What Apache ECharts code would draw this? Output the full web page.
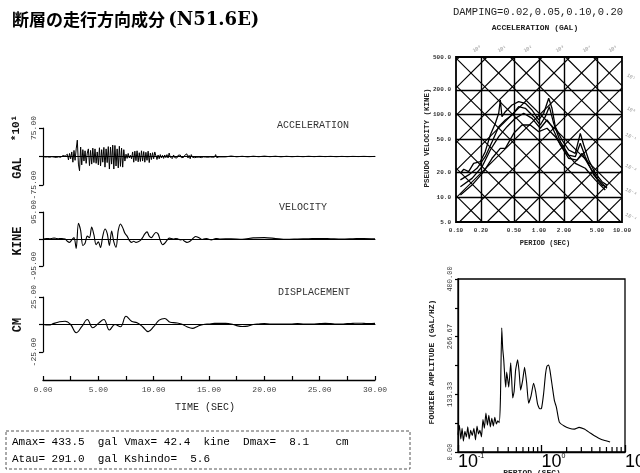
<!DOCTYPE html>
<html>
<head>
<meta charset="utf-8">
<script src="https://cdn.jsdelivr.net/npm/echarts@6/dist/echarts.min.js"></script>
<style>html,body{margin:0;background:#fff}#chart{width:640px;height:473px}</style>
</head>
<body>
<div id="chart"></div>
<script>
// time histories (gal / kine / cm), sampled at fixed steps
const accStep = 0.1;
const accValues = [
  0, 10, -15, 20, -10, 5, -20, 15, -5, 25, -15, 10, -25, 20, -10, 15, -20, 5, 25, -15, 10,
  -40, 60, -90, 80, -60, 120, -150, 160, -100,
  200, 430, -200, -375, 250, -220, 180, -120, 150, -180,
  90, 200, -240, 160, -200, 220, -160, 200, -180, 120,
  -220, 230, -250, 180, -150, 240, -280, 200, -160, 260,
  -330, 250, -200, 300, -330, 290, -250, 200, -300, 270,
  -260, 220, -280, 180, -120, 60, -50, 80, -40, 30,
  -60, 120, -150, 140, -110, 150, -140, 100, -130, 150,
  -120, 130, -150, 110, -100, 140, -160, 90, -80, 100,
  -60, 120, 160, -80, 40, -60, 50, -40, 30, -50,
  40, -30, 50, -40, 90, -20, 30, -50, 40, -30,
  20, -40, 30, -20, 40, -30, 20, -25, 30, 60,
  70, -40, 30, -60, 50, -20, 30, -30, 20, -20,
  25, -15, 20, -30, 15, -10, 20, -15, 10, -20,
  15, -10, 25, -20, 10, -15, 50, -30, 20, -10, 15
];
const accTailStep = 0.5;
const accTail = [-10, 12, -8, 6, -10, 8, -6, 10, -5, 7, -8, 5, -6, 4, -5, 6, -4, 5, -3, 4, -5, 3, -4, 3, -2, 4, -3, 2];

const velStep = 0.2;
const velValues = [
  0, 1, 2, 1, 2, 3, 2, 1, 2, 1, 0,
  -8, -12, -3, 5, -33,
  55, 30, -23, -15, 10,
  5, 42, 15, -20, -10,
  -30, 10, 35, 20, -23,
  28, -10, -29, 30, 53,
  40, 20, 10, -5, -12,
  -8, -12, -10, -5, 5,
  18, 25, 10, 5, 15,
  23, 18, -5, -20, -15,
  -5, 3, 2, 0, 2,
  0, -3, -2, -8, -12,
  -10, -4, 4, 9, 6,
  2, -2, 1, 2, -1,
  -3, -1, 2, 1, 0
];
const velTailStep = 1;
const velTail = [1, -1, 4, 5, 2, -1, 0, 1, 2, 1, 0, 1, 2, 1];

const dispStep = 0.5;
const dispValues = [
  0, -0.5, 1, 2.5, 3, 0, -7.5, -2, 4.5, -3, 1, 4.5, -5, 0, -2, 7.5, 3, 1.5, -2, -6.5,
  -2, 4, 5.5, 2, 1.5, 0.5, -2, -3.5, -1.5, 0, 0.5, 1, 1, 1, 0.5, -1, -1.8, -1.5, 0, 0.5,
  0.8, 0.5, 0.5, 0.5, 0.3, 0.5, 0.8, 0.5, 0.3, 0.5, 0.8, 1, 0.8, 0.5, 0.5, 0.8, 1, 1.2, 1, 0.8, 1
];

// response spectra (period sec, pseudo velocity kine)
const tripPeriodTicks = [0.1, 0.2, 0.5, 1, 2, 5, 10];
const tripVelTicks = [5, 10, 20, 50, 100, 200, 500];
const accLevels = [2.86, 6.2, 13.3, 28.6, 61.7, 133, 286, 617, 1327, 2859, 6170, 13277, 28600];
const dispLevels = [0.077, 0.166, 0.358, 0.771, 1.66, 3.58, 7.71, 16.6, 35.8, 77.1, 166, 358, 771];
const psv002 = [[0.113,19.5],[0.124,21.8],[0.142,20.4],[0.163,25.7],[0.196,26.9],[0.225,35.6],[0.259,56.7],[0.298,78.6],[0.327,103.9],[0.342,150.6],[0.358,94.5],[0.393,108.6],[0.473,131],[0.569,143.6],[0.684,137.3],[0.824,113.9],[0.992,86.2],[1.139,103.9],[1.309,157.9],[1.434,119.4],[1.572,71.5],[1.892,49.3],[2.279,37.3],[2.737,34],[3.145,59.4],[3.457,42.9],[3.97,28.2],[4.766,19.5],[5.741,15.4],[6.596,14.0]];
const psv005 = [[0.113,16.2],[0.142,18.6],[0.179,22.4],[0.225,30.9],[0.272,47],[0.327,71.5],[0.393,86.2],[0.473,99.1],[0.569,124.9],[0.684,119.4],[0.863,94.5],[1.037,74.9],[1.191,94.5],[1.331,124.9],[1.503,78.6],[1.806,47],[2.279,32.4],[2.737,30.9],[3.145,45],[3.612,30.9],[4.56,18.6],[5.741,14.0],[6.596,13.2]];
const psv010 = [[0.113,13.4],[0.156,16.9],[0.206,23.4],[0.259,37.3],[0.327,54.1],[0.412,71.5],[0.518,90.3],[0.654,103.9],[0.824,90.3],[1.037,68.4],[1.249,86.2],[1.434,71.5],[1.806,42.9],[2.279,29.6],[2.87,28.2],[3.297,34],[3.97,24.5],[5.0,16.9],[6.596,12.8]];
const psv020 = [[0.113,10.6],[0.156,14.0],[0.216,20.4],[0.272,29.6],[0.342,39.1],[0.393,39.1],[0.496,59.4],[0.624,74.9],[0.786,74.9],[0.992,62.2],[1.249,68.4],[1.572,54.1],[2.075,35.6],[2.737,25.7],[3.612,22.4],[4.766,16.2],[6.29,12.2]];

// fourier spectrum
const fourierPeriod = [
  0.100, 0.104, 0.108, 0.112, 0.116, 0.121, 0.126, 0.131, 0.136, 0.142, 0.148, 0.155, 0.162, 0.169, 0.176,
  0.183, 0.191, 0.199, 0.207, 0.216, 0.225, 0.234, 0.244, 0.254, 0.265, 0.276, 0.288, 0.300, 0.312,
  0.322, 0.334, 0.343, 0.353, 0.363, 0.373, 0.383, 0.394, 0.405, 0.416, 0.428, 0.440, 0.452, 0.470, 0.490,
  0.518, 0.540, 0.562, 0.594, 0.627, 0.664, 0.700, 0.750, 0.803, 0.850, 0.895, 0.950, 1.000, 1.060, 1.117,
  1.160, 1.209, 1.260, 1.350, 1.430, 1.507, 1.635, 1.870, 2.145, 2.480, 2.816, 3.250, 3.700, 4.250, 4.850,
  5.600, 6.630
];
const fourierAmp = [
  40, 62, 30, 55, 25, 48, 35, 58, 30, 50, 38, 55, 28, 60, 42,
  50, 35, 75, 55, 90, 62, 85, 58, 78, 60, 80, 65, 72, 68,
  120, 287, 240, 213, 175, 150, 185, 168, 150, 175, 206, 165, 125, 140, 190,
  213, 185, 143, 165, 196, 160, 113, 130, 159, 140, 112, 100, 101, 135, 180,
  198, 201, 190, 150, 118, 104, 69, 60, 55, 53, 57, 53, 46, 38, 32,
  27, 23
];
const fourierMinorTicks = [0.2, 0.3, 0.4, 0.5, 0.6, 0.7, 0.8, 0.9, 2, 3, 4, 5, 6, 7, 8, 9];

const MONO = '"Liberation Mono", "DejaVu Sans Mono", monospace';

function pairs(values, step, t0) {
  return values.map((v, i) => [+(t0 + i * step).toFixed(2), v]);
}
const accData = pairs(accValues, accStep, 0).concat(pairs(accTail, accTailStep, 16.5));
const velData = pairs(velValues, velStep, 0).concat(pairs(velTail, velTailStep, 17));
const dispData = pairs(dispValues, dispStep, 0);

const tMin = tripPeriodTicks[0], tMax = tripPeriodTicks[tripPeriodTicks.length - 1];
const vMin = tripVelTicks[0], vMax = tripVelTicks[tripVelTicks.length - 1];
const gridLines = [];
tripPeriodTicks.slice(1, -1).forEach(t => gridLines.push({ coords: [[t, vMin], [t, vMax]] }));
tripVelTicks.slice(1, -1).forEach(v => gridLines.push({ coords: [[tMin, v], [tMax, v]] }));

const TWO_PI = 2 * Math.PI;
const diagLines = [];
accLevels.forEach(sa => {
  const lo = Math.max(tMin, vMin * TWO_PI / sa), hi = Math.min(tMax, vMax * TWO_PI / sa);
  if (lo < hi) diagLines.push({ coords: [[lo, sa * lo / TWO_PI], [hi, sa * hi / TWO_PI]] });
});
dispLevels.forEach(sd => {
  const lo = Math.max(tMin, TWO_PI * sd / vMax), hi = Math.min(tMax, TWO_PI * sd / vMin);
  if (lo < hi) diagLines.push({ coords: [[lo, TWO_PI * sd / lo], [hi, TWO_PI * sd / hi]] });
});

function traceX(gridIndex) {
  return {
    gridIndex, type: 'value', min: 0, max: 30,
    axisLine: { onZero: true, lineStyle: { color: '#000', width: 1 } },
    axisTick: { show: false }, axisLabel: { show: false }, splitLine: { show: false }
  };
}
function traceY(gridIndex, lim, fmt) {
  return {
    gridIndex, type: 'value', min: -lim, max: lim, interval: lim,
    axisLine: { show: true, lineStyle: { color: '#000', width: 1.2 } },
    axisTick: { show: true, length: 4, lineStyle: { color: '#000', width: 1.2 } },
    axisLabel: { rotate: 90, margin: 5, fontSize: 8, color: '#333', fontFamily: MONO,
      formatter: v => (v === 0 ? '' : fmt(v)) },
    splitLine: { show: false }
  };
}
function vText(text, x, y, font, color) {
  return { type: 'text', x, y, rotation: Math.PI / 2,
    style: { text, font, fill: color || '#111', align: 'center', verticalAlign: 'middle',
      textAlign: 'center', textVerticalAlign: 'middle' } };
}
function hText(text, x, y, font, align, color) {
  return { type: 'text', x, y,
    style: { text, font, fill: color || '#111', align: align || 'center', verticalAlign: 'middle',
      textAlign: align || 'center', textVerticalAlign: 'middle' } };
}

const chart = echarts.init(document.getElementById('chart'));
chart.setOption({
  animation: false,
  backgroundColor: '#fff',
  textStyle: { fontFamily: MONO },
  grid: [
    { left: 43, top: 128, width: 332, height: 57, outerBoundsMode: 'none' },
    { left: 43, top: 212, width: 332, height: 54, outerBoundsMode: 'none' },
    { left: 43, top: 297, width: 332, height: 55, outerBoundsMode: 'none' },
    { left: 456, top: 57, width: 166, height: 165, show: true, borderColor: '#000', borderWidth: 1.8, outerBoundsMode: 'none' },
    { left: 458, top: 279, width: 167, height: 173, show: true, borderColor: '#000', borderWidth: 1.3, outerBoundsMode: 'none' }
  ],
  xAxis: [
    traceX(0), traceX(1), traceX(2),
    {
      gridIndex: 2, type: 'value', min: 0, max: 30, interval: 2.5, position: 'bottom', offset: 28,
      axisLine: { onZero: false, lineStyle: { color: '#000', width: 1.3 } },
      axisTick: { inside: true, length: 4, lineStyle: { color: '#000', width: 1.2 } },
      axisLabel: { margin: 6, fontSize: 8, color: '#444', fontFamily: MONO,
        formatter: v => (v % 5 === 0 ? v.toFixed(2) : '') },
      splitLine: { show: false }
    },
    {
      gridIndex: 3, type: 'log', min: tMin, max: tMax,
      axisLine: { show: false }, axisTick: { show: false }, splitLine: { show: false },
      axisLabel: { customValues: tripPeriodTicks, margin: 5, fontSize: 6, fontWeight: 'bold',
        color: '#333', fontFamily: MONO, formatter: v => v.toFixed(2) }
    },
    {
      gridIndex: 4, type: 'log', min: 0.1, max: 10,
      axisLine: { show: true, lineStyle: { color: '#000', width: 1.3 } },
      axisTick: { show: true, inside: true, length: 7, lineStyle: { color: '#000', width: 1.3 } },
      splitLine: { show: false },
      axisLabel: {
        align: 'left', margin: 1,
        formatter: v => {
          const e = Math.round(Math.log10(v));
          return '{b|10}{s|' + (e === 0 ? '0' : e === 1 ? '1' : '-1') + '}';
        },
        rich: {
          b: { fontSize: 18, fontFamily: '"Liberation Sans", Arial', color: '#000', verticalAlign: 'bottom' },
          s: { fontSize: 7, fontFamily: '"Liberation Sans", Arial', color: '#000', verticalAlign: 'top', padding: [0, 0, 10, 0] }
        }
      }
    }
  ],
  yAxis: [
    traceY(0, 750, v => (v / 10).toFixed(2)),
    traceY(1, 95, v => v.toFixed(2)),
    traceY(2, 25, v => v.toFixed(2)),
    {
      gridIndex: 3, type: 'log', min: vMin, max: vMax,
      axisLine: { show: false }, axisTick: { show: false }, splitLine: { show: false },
      axisLabel: { customValues: tripVelTicks, margin: 5, fontSize: 6, fontWeight: 'bold',
        color: '#333', fontFamily: MONO, formatter: v => v.toFixed(1) }
    },
    {
      gridIndex: 4, type: 'value', min: 0, max: 400, interval: 400 / 6,
      axisLine: { show: true, lineStyle: { color: '#000', width: 1.3 } },
      axisTick: { show: true, length: 3, lineStyle: { color: '#000', width: 1.2 } },
      splitLine: { show: false },
      axisLabel: { rotate: 90, margin: 4, fontSize: 7, color: '#333', fontFamily: MONO,
        formatter: (v, i) => (i % 2 === 0 ? v.toFixed(2) : '') }
    }
  ],
  series: [
    { type: 'line', xAxisIndex: 0, yAxisIndex: 0, data: accData, showSymbol: false,
      lineStyle: { color: '#000', width: 1 }, z: 3 },
    { type: 'line', xAxisIndex: 1, yAxisIndex: 1, data: velData, showSymbol: false, smooth: 0.3,
      lineStyle: { color: '#000', width: 1.1 }, z: 3 },
    { type: 'line', xAxisIndex: 2, yAxisIndex: 2, data: dispData, showSymbol: false, smooth: 0.4,
      lineStyle: { color: '#000', width: 1.1 }, z: 3 },
    { type: 'lines', coordinateSystem: 'cartesian2d', xAxisIndex: 4, yAxisIndex: 3, data: gridLines,
      silent: true, lineStyle: { color: '#000', width: 1.4, opacity: 1 }, z: 2 },
    { type: 'lines', coordinateSystem: 'cartesian2d', xAxisIndex: 4, yAxisIndex: 3, data: diagLines,
      silent: true, lineStyle: { color: '#000', width: 1.1, opacity: 1 }, z: 2 },
    ...[psv002, psv005, psv010, psv020].map(d => ({
      type: 'line', xAxisIndex: 4, yAxisIndex: 3, data: d, showSymbol: false,
      lineStyle: { color: '#000', width: 1.3 }, z: 4
    })),
    { type: 'line', xAxisIndex: 5, yAxisIndex: 4, showSymbol: false, smooth: 0.15,
      data: fourierPeriod.map((t, i) => [t, fourierAmp[i]]),
      lineStyle: { color: '#000', width: 1.1 }, z: 3 },
    { type: 'custom', xAxisIndex: 5, yAxisIndex: 4, silent: true, clip: false,
      data: fourierMinorTicks.map(v => [v, 0]),
      renderItem: (params, api) => {
        const p = api.coord([api.value(0), 0]);
        return { type: 'line', shape: { x1: p[0], y1: p[1], x2: p[0], y2: p[1] - 5 },
          style: { stroke: '#000', lineWidth: 1.2 } };
      } }
  ],
  graphic: [
    { type: 'text', x: 12, y: 20,
      style: { text: '{j|断層の走行方向成分} {l|(N51.6E)}', fill: '#000', verticalAlign: 'middle',
        rich: {
          j: { font: 'bold 17px "Noto Sans CJK JP"', fill: '#000', verticalAlign: 'middle' },
          l: { font: 'bold 18px "DejaVu Serif"', fill: '#000', verticalAlign: 'middle' }
        } } },
    vText('*10¹', 16, 128, 'bold 11px ' + MONO),
    vText('GAL', 18, 168, 'bold 12px ' + MONO),
    vText('KINE', 18, 241, 'bold 12px ' + MONO),
    vText('CM', 18, 325, 'bold 12px ' + MONO),
    hText('ACCELERATION', 277, 125, '10px ' + MONO, 'left', '#333'),
    hText('VELOCITY', 279, 207, '10px ' + MONO, 'left', '#333'),
    hText('DISPLACEMENT', 278, 292, '10px ' + MONO, 'left', '#333'),
    hText('TIME (SEC)', 205, 407, '10px ' + MONO, 'center', '#222'),
    { type: 'rect', shape: { x: 6, y: 431, width: 404, height: 38 },
      style: { fill: 'none', stroke: '#555', lineWidth: 1, lineDash: [3, 2] } },
    hText('Amax= 433.5  gal Vmax= 42.4  kine  Dmax=  8.1    cm', 12, 442, '11px ' + MONO, 'left', '#000'),
    hText('Atau= 291.0  gal Kshindo=  5.6', 12, 459, '11px ' + MONO, 'left', '#000'),
    hText('DAMPING=0.02,0.05,0.10,0.20', 538, 12, '10.5px ' + MONO, 'center', '#222'),
    hText('ACCELERATION (GAL)', 535, 28, 'bold 8px ' + MONO, 'center', '#222'),
    vText('PSEUDO VELOCITY (KINE)', 427, 138, 'bold 7.5px ' + MONO, '#222'),
    hText('PERIOD (SEC)', 545, 243, 'bold 7px ' + MONO, 'center', '#222'),
    vText('FOURIER AMPLITUDE (GAL/HZ)', 432, 362, 'bold 8px ' + MONO, '#222'),
    hText('PERIOD (SEC)', 532, 473, 'bold 8px ' + MONO, 'center', '#222'),
    ...['10⁰', '10¹', '10²', '10³', '10⁴', '10⁵'].map((s, i) => ({
      type: 'text', x: [477, 502, 528, 560, 587, 613][i], y: 49, rotation: 0.5,
      style: { text: s, font: '5px ' + MONO, fill: '#888', align: 'center', verticalAlign: 'middle' } })),
    ...['10¹', '10⁰', '10⁻¹', '10⁻²', '10⁻³', '10⁻⁴'].map((s, i) => ({
      type: 'text', x: 631, y: [77, 110, 137, 168, 192, 217][i], rotation: -0.5,
      style: { text: s, font: '5px ' + MONO, fill: '#888', align: 'center', verticalAlign: 'middle' } }))
  ]
});
</script>
</body>
</html>
